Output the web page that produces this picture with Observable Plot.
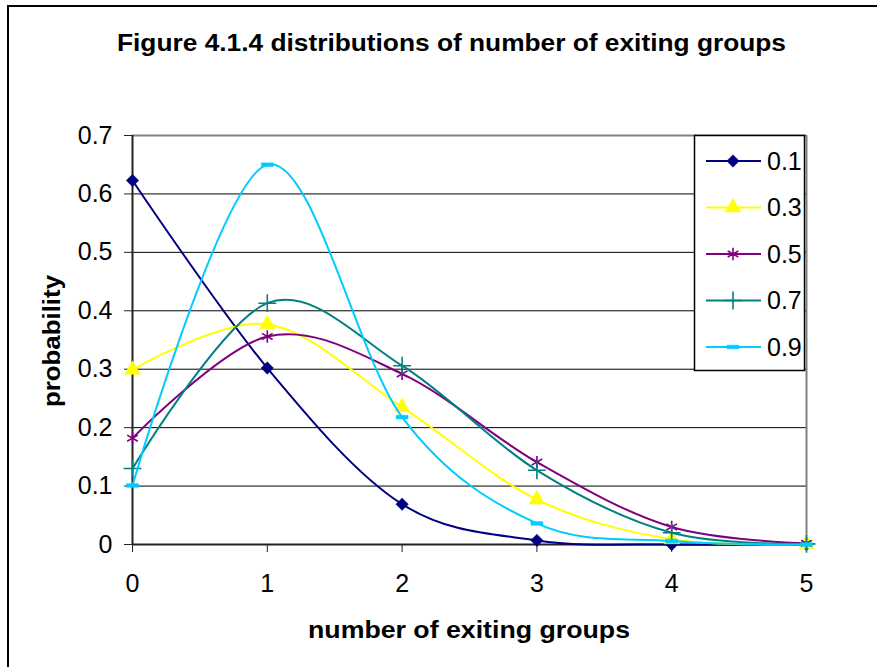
<!DOCTYPE html>
<html>
<head>
<meta charset="utf-8">
<script src="https://cdn.jsdelivr.net/npm/d3@7"></script>
<script src="https://cdn.jsdelivr.net/npm/@observablehq/plot@0.6"></script>
<style>
  body { margin: 0; background: #fff; }
  #chart { position: relative; width: 877px; height: 667px; overflow: hidden; }
  svg text { font-family: "Liberation Sans", Arial, sans-serif; }
</style>
</head>
<body>
<div id="chart"></div>
<script>
// Number of exiting groups (x) and probability for each parameter value
const groups = [0, 1, 2, 3, 4, 5];
const p01 = [0.623, 0.302, 0.069, 0.007, 0.0, 0.0];
const p03 = [0.299, 0.377, 0.235, 0.077, 0.009, 0.001];
const p05 = [0.182, 0.356, 0.292, 0.141, 0.030, 0.002];
const p07 = [0.130, 0.413, 0.306, 0.127, 0.020, 0.001];
const p09 = [0.101, 0.650, 0.218, 0.036, 0.006, 0.0];

const seriesNames = ["0.1", "0.3", "0.5", "0.7", "0.9"];
const seriesValues = [p01, p03, p05, p07, p09];
const seriesColors = ["#000080", "#FFFF00", "#800080", "#008080", "#00CCFF"];

const xTicks = [0, 1, 2, 3, 4, 5];
const yTicks = [0, 0.1, 0.2, 0.3, 0.4, 0.5, 0.6, 0.7];

const titleText = "Figure 4.1.4 distributions of number of exiting groups";
const xLabel = "number of exiting groups";
const yLabel = "probability";

// Excel-style short horizontal bar marker
const dash = {
  draw(ctx, size) {
    const r = Math.sqrt(size / Math.PI);
    ctx.rect(-1.3 * r, -0.4 * r, 2.6 * r, 0.8 * r);
  }
};
const diamond = {
  draw(ctx, size) {
    const r = Math.sqrt(size / Math.PI) * 1.15;
    ctx.moveTo(0, -r); ctx.lineTo(r, 0); ctx.lineTo(0, r); ctx.lineTo(-r, 0); ctx.closePath();
  }
};
const markers = [
  {symbol: diamond, filled: true, r: 5.4},
  {symbol: d3.symbolTriangle, filled: true, r: 5.8},
  {symbol: d3.symbolAsterisk, filled: false, r: 5.8},
  {symbol: d3.symbolPlus, filled: false, r: 5.8},
  {symbol: dash, filled: true, r: 4.6}
];

const rows = seriesNames.flatMap((name, j) =>
  groups.map((g, i) => ({series: name, x: g, y: seriesValues[j][i]}))
);

const seriesMarks = seriesNames.flatMap((name, j) => {
  const data = rows.filter(d => d.series === name);
  const m = markers[j];
  return [
    Plot.line(data, {x: "x", y: "y", stroke: seriesColors[j], strokeWidth: 2, curve: "cardinal"}),
    Plot.dot(data, {
      x: "x", y: "y", symbol: () => m.symbol, r: m.r,
      fill: m.filled ? seriesColors[j] : "none",
      stroke: seriesColors[j], strokeWidth: m.filled ? 0.5 : 1.6
    })
  ];
});

const W = 877, H = 667;
const chart = Plot.plot({
  width: W, height: H,
  marginLeft: 132, marginRight: 71, marginTop: 135, marginBottom: 123,
  x: {domain: [xTicks[0], xTicks[xTicks.length - 1]]},
  y: {domain: [yTicks[0], yTicks[yTicks.length - 1]]},
  style: {background: "#fff", fontFamily: "'Liberation Sans', Arial, sans-serif", fontSize: "24px", overflow: "visible"},
  marks: [
    Plot.gridY(yTicks.slice(1, -1), {stroke: "#000", strokeOpacity: 1, strokeWidth: 1}),
    Plot.ruleY(yTicks.slice(-1), {stroke: "#808080", strokeWidth: 2}),
    Plot.ruleX(xTicks.slice(-1), {stroke: "#808080", strokeWidth: 2}),
    Plot.axisY(yTicks, {tickSize: 8, tickPadding: 12, tickFormat: d => String(d), label: null, stroke: "#222", fontSize: 25, fill: "#000"}),
    Plot.axisX(xTicks, {tickSize: 8, tickPadding: 22, tickFormat: d => String(d), label: null, stroke: "#222", fontSize: 25, fill: "#000"}),
    Plot.ruleX(xTicks.slice(0, 1), {stroke: "#222", strokeWidth: 2}),
    Plot.ruleY(yTicks.slice(0, 1), {stroke: "#222", strokeWidth: 2}),
    ...seriesMarks
  ]
});

document.getElementById("chart").appendChild(chart);
const svg = d3.select(chart);

// Outer chart border
svg.append("rect").attr("x", 8).attr("y", 6).attr("width", 1000).attr("height", 1000)
  .attr("fill", "none").attr("stroke", "#000").attr("stroke-width", 2);

// Title and axis titles
svg.append("text").text(titleText)
  .attr("x", 451.5).attr("y", 51).attr("text-anchor", "middle")
  .attr("font-weight", "bold").attr("font-size", 23)
  .attr("textLength", 669).attr("lengthAdjust", "spacingAndGlyphs");

svg.append("text").text(xLabel)
  .attr("x", 469).attr("y", 638).attr("text-anchor", "middle")
  .attr("font-weight", "bold").attr("font-size", 24)
  .attr("textLength", 322).attr("lengthAdjust", "spacingAndGlyphs");

svg.append("text").text(yLabel)
  .attr("transform", "translate(60,341) rotate(-90)").attr("text-anchor", "middle")
  .attr("font-weight", "bold").attr("font-size", 24)
  .attr("textLength", 132).attr("lengthAdjust", "spacingAndGlyphs");

// Legend
const lg = svg.append("g").attr("text-anchor", "start");
lg.append("rect").attr("x", 694.5).attr("y", 135.5).attr("width", 110).attr("height", 235)
  .attr("fill", "#fff").attr("stroke", "#000").attr("stroke-width", 1.5);
seriesNames.forEach((name, j) => {
  const y = 161 + j * 46.5;
  const m = markers[j];
  lg.append("line").attr("x1", 706).attr("x2", 761).attr("y1", y).attr("y2", y)
    .attr("stroke", seriesColors[j]).attr("stroke-width", 2);
  lg.append("path").attr("transform", `translate(733,${y})`)
    .attr("d", d3.symbol(m.symbol, Math.PI * m.r * m.r)())
    .attr("fill", m.filled ? seriesColors[j] : "none")
    .attr("stroke", seriesColors[j]).attr("stroke-width", m.filled ? 0.5 : 1.6);
  lg.append("text").text(name).attr("x", 767).attr("y", y).attr("dy", "0.35em")
    .attr("text-anchor", "start").attr("font-size", 25).attr("fill", "#000");
});
</script>
</body>
</html>
